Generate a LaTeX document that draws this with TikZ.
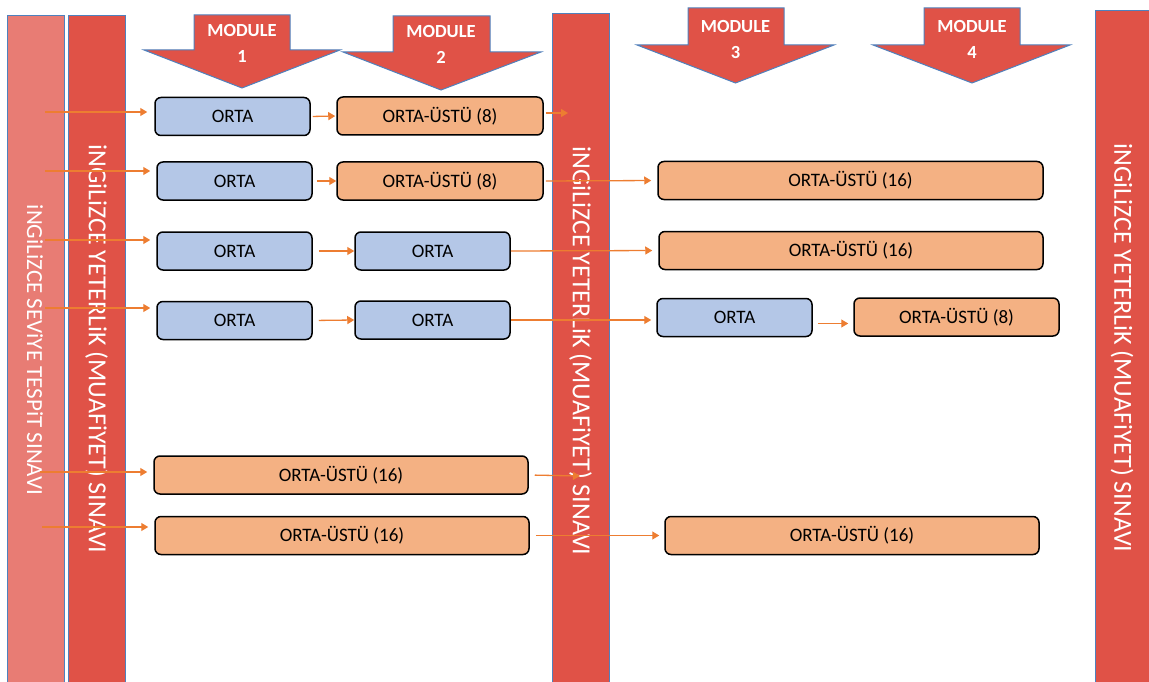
\documentclass[tikz,border=0pt]{standalone}
\usepackage{fontspec}
\setmainfont{Carlito}
\usetikzlibrary{arrows.meta}
\definecolor{sinavred}{HTML}{E05247}
\definecolor{sinavlight}{HTML}{E87C74}
\definecolor{sinavline}{HTML}{4F81BD}
\definecolor{ortablue}{HTML}{B4C7E7}
\definecolor{ustorange}{HTML}{F4B183}
\definecolor{linkorange}{HTML}{ED7D31}
\begin{document}
\begin{tikzpicture}[x=1pt, y=-1pt,
  bar/.style={draw=sinavline, line width=1.2pt, fill=sinavred, minimum width=57pt,
    minimum height=700pt, anchor=north west, inner sep=0pt},
  bartext/.style={rotate=-90, text=white, font=\fontsize{26}{30}\selectfont},
  modarrow/.style={draw=sinavline, line width=1pt, fill=sinavred},
  modtext/.style={text=white, font=\bfseries\fontsize{18.5}{26}\selectfont, align=center},
  orta/.style={draw=black, line width=1.5pt, rounded corners=6pt, fill=ortablue,
    minimum height=38pt, inner sep=0pt, font=\fontsize{19}{22}\selectfont},
  ustu/.style={orta, fill=ustorange},
  link/.style={draw=linkorange, line width=1.3pt, -{Triangle[length=7pt,width=8pt]}}]
  \useasboundingbox (0,0) rectangle (1149,682);
  \clip (0,0) rectangle (1149,682);

  % exam bars
  \node[bar, fill=sinavlight] (tespit) at (7,15) {};
  \node[bar] (yet1) at (68,15) {};
  \node[bar] (yet2) at (552,13) {};
  \node[bar] (yet3) at (1095,10) {};
  \node[bartext, font=\fontsize{23}{27}\selectfont] (tespitt) at (35,350) {iNGiLiZCE SEViYE TESPiT SINAVI};
  \node[bartext] (yet1t) at (96.5,349) {iNGiLiZCE YETERLiK (MUAFiYET) SINAVI};
  \node[bartext] (yet2t) at (580.5,351) {iNGiLiZCE YETERLiK (MUAFiYET) SINAVI};
  \node[bartext] (yet3t) at (1122,348) {iNGiLiZCE YETERLiK (MUAFiYET) SINAVI};

  % module arrows
  \draw[modarrow] (194,15) -- (290,15) -- (290,50) -- (340,50) -- (242,88) -- (144,50) -- (194,50) -- cycle;
  \draw[modarrow] (393,16) -- (490,16) -- (490,52) -- (541,52) -- (441,90) -- (343,52) -- (393,52) -- cycle;
  \draw[modarrow] (688,8) -- (784,8) -- (784,45) -- (834,45) -- (735.5,83) -- (637,45) -- (688,45) -- cycle;
  \draw[modarrow] (924,8) -- (1020,8) -- (1020,45) -- (1070,45) -- (972,83) -- (873,45) -- (924,45) -- cycle;
  \node[modtext] (mod1) at (242,43) {MODULE\\1};
  \node[modtext] (mod2) at (441,44.5) {MODULE\\2};
  \node[modtext] (mod3) at (735.5,39.5) {MODULE\\3};
  \node[modtext] (mod4) at (972,39.5) {MODULE\\4};

  % course boxes
  \node[orta, minimum width=155pt] (r11) at (232.5,116.5) {ORTA};
  \node[ustu, minimum width=206pt] (r12) at (440,116) {ORTA-ÜSTÜ (8)};
  \node[orta, minimum width=155pt] (r21) at (234.5,181) {ORTA};
  \node[ustu, minimum width=206pt] (r22) at (440,181) {ORTA-ÜSTÜ (8)};
  \node[ustu, minimum width=385pt] (r23) at (850.5,180.5) {ORTA-ÜSTÜ (16)};
  \node[orta, minimum width=155pt] (r31) at (234.5,251) {ORTA};
  \node[orta, minimum width=155pt] (r32) at (432.5,251) {ORTA};
  \node[ustu, minimum width=384pt] (r33) at (851,250.5) {ORTA-ÜSTÜ (16)};
  \node[orta, minimum width=155pt] (r41) at (234.5,320.5) {ORTA};
  \node[orta, minimum width=155pt] (r42) at (432.5,320) {ORTA};
  \node[orta, minimum width=155pt] (r43) at (734.5,317.5) {ORTA};
  \node[ustu, minimum width=205pt] (r44) at (956.5,317) {ORTA-ÜSTÜ (8)};
  \node[ustu, minimum width=374pt] (r51) at (341,475) {ORTA-ÜSTÜ (16)};
  \node[ustu, minimum width=374pt] (r61) at (342,535.5) {ORTA-ÜSTÜ (16)};
  \node[ustu, minimum width=374pt] (r62) at (852,535.5) {ORTA-ÜSTÜ (16)};

  % connectors
  \coordinate (s1) at (45,112);
  \coordinate (s2) at (45,171);
  \coordinate (s3) at (45,240);
  \coordinate (s4) at (45,308);
  \coordinate (s5) at (40,472);
  \coordinate (s6) at (42,527);
  \coordinate (c1) at (568,113);
  \coordinate (c5) at (580,476);
  \draw[link, shorten >=7pt] (s1) -- (s1 -| r11.west);
  \draw[link, shorten >=6pt] (s2) -- (s2 -| r21.west);
  \draw[link, shorten >=6pt] (s3) -- (s3 -| r31.west);
  \draw[link, shorten >=6pt] (s4) -- (s4 -| r41.west);
  \draw[link, shorten >=6pt] (s5) -- (s5 -| r51.west);
  \draw[link, shorten >=6pt] (s6) -- (s6 -| r61.west);
  \draw[link, shorten <=2pt, shorten >=1pt] (r11.east) -- (r12.west);
  \draw[link, shorten <=2pt] (r12.east |- c1) -- (c1);
  \draw[link, shorten <=4pt] (r21.east) -- (r22.west);
  \draw[link, shorten <=2pt, shorten >=6pt] (r22.east) -- (r23.west);
  \draw[link, shorten <=6pt] (r31.east) -- (r32.west);
  \draw[link, shorten >=6pt] (r32.east) -- (r33.west);
  \draw[link, shorten <=6pt] (r41.east) -- (r42.west);
  \draw[link, shorten >=5pt] (r42.east) -- (r42.east -| r43.west);
  \draw[link, shorten <=5pt, shorten >=5pt] ([yshift=-6pt]r43.east) -- ([yshift=-6pt]r43.east -| r44.west);
  \draw[link, shorten <=6pt] (r51.east) -- (c5);
  \draw[link, shorten <=6pt, shorten >=5pt] (r61.east) -- (r62.west);
\end{tikzpicture}
\end{document}
